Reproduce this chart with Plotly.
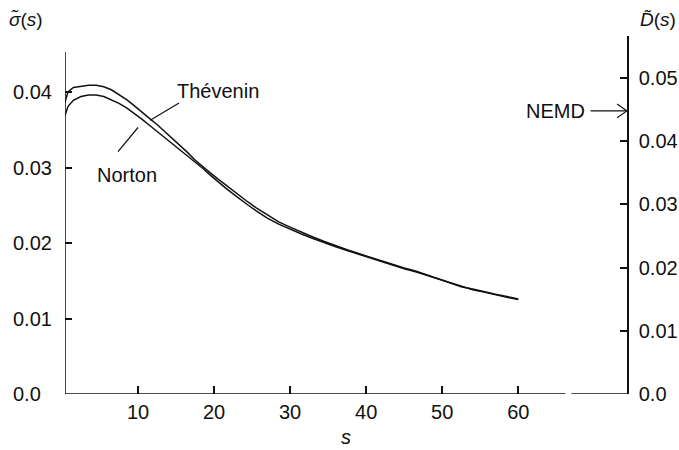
import plotly.graph_objects as go

# Integration upper limit s
s_values = [0.3, 0.8, 1.5, 2.5, 3.5, 4.5, 5.5, 6.5, 7.5, 8.5, 9.5, 10.5, 11.5,
            12.5, 13.5, 14.5, 15.5, 16.5, 17.5, 18.5, 19.5, 20.5, 21.5, 22.5,
            23.5, 24.5, 25.5, 27, 28.5, 30, 31.5, 33, 34.5, 36, 37.5, 39, 40.5,
            42, 43.5, 45, 46.5, 48, 49.5, 51, 52.5, 54, 55.5, 57, 58.5, 60]

# Running Green-Kubo estimate, Thevenin ensemble
thevenin = [0.0384, 0.0400, 0.0406, 0.0408, 0.0409, 0.0409, 0.0407, 0.0403,
            0.0397, 0.0390, 0.0382, 0.0373, 0.0365, 0.0357, 0.0348, 0.0339,
            0.0330, 0.0320, 0.0310, 0.0301, 0.0293, 0.0285, 0.0277, 0.0269,
            0.0261, 0.0254, 0.0247, 0.0237, 0.0228, 0.0221, 0.0214, 0.0208,
            0.0202, 0.0196, 0.0191, 0.0186, 0.0181, 0.0176, 0.0172, 0.0167,
            0.0163, 0.0158, 0.0153, 0.0147, 0.0142, 0.0139, 0.0135, 0.0132,
            0.0129, 0.0126]

# Running Green-Kubo estimate, Norton ensemble
norton = [0.0366, 0.0381, 0.0389, 0.0394, 0.0396, 0.0396, 0.0394, 0.0390,
          0.0385, 0.0379, 0.0372, 0.0364, 0.0356, 0.0348, 0.0340, 0.0332,
          0.0324, 0.0316, 0.0308, 0.0299, 0.0290, 0.0281, 0.0273, 0.0265,
          0.0257, 0.0250, 0.0243, 0.0233, 0.0225, 0.0218, 0.0212, 0.0206,
          0.0200, 0.0195, 0.0190, 0.0185, 0.0180, 0.0175, 0.0171, 0.0166,
          0.0162, 0.0157, 0.0152, 0.0147, 0.0142, 0.0138, 0.0135, 0.0131,
          0.0128, 0.0125]

nemd_value = 0.0448  # direct NEMD result on the right-hand scale

x_ticks = [10, 20, 30, 40, 50, 60]
left_ticks = [0.0, 0.01, 0.02, 0.03, 0.04]
left_labels = ["0.0", "0.01", "0.02", "0.03", "0.04"]
right_ticks = [0.0, 0.01, 0.02, 0.03, 0.04, 0.05]
right_labels = ["0.0", "0.01", "0.02", "0.03", "0.04", "0.05"]

FONT = "Liberation Sans, Arial, sans-serif"
INK = "#111111"
X_MIN, X_MAX = 0.4, 74.3
Y_MAX = 0.04742
Y2_MAX = 0.05665

fig = go.Figure()
fig.add_trace(go.Scatter(x=s_values, y=thevenin, mode="lines",
                         line=dict(color=INK, width=1.5), name="Thévenin"))
fig.add_trace(go.Scatter(x=s_values, y=norton, mode="lines",
                         line=dict(color=INK, width=1.5), name="Norton"))

shapes = [
    # left axis spine (shorter than the plot area)
    dict(type="line", xref="x", yref="y", x0=X_MIN, x1=X_MIN, y0=0, y1=0.0453,
         line=dict(color=INK, width=1.5)),
    # broken bottom axis
    dict(type="line", xref="x", yref="y", x0=X_MIN, x1=66.2, y0=0, y1=0,
         line=dict(color=INK, width=1.5)),
    dict(type="line", xref="x", yref="y", x0=67.0, x1=X_MAX, y0=0, y1=0,
         line=dict(color=INK, width=1.5)),
    # leader lines for the curve labels
    dict(type="line", xref="x", yref="y", x0=15.4, y0=0.03854, x1=11.6, y1=0.03625,
         line=dict(color=INK, width=1.2)),
    dict(type="line", xref="x", yref="y", x0=10.0, y0=0.0353, x1=7.37, y1=0.0321,
         line=dict(color=INK, width=1.2)),
    # NEMD pointer
    dict(type="line", xref="x", yref="y2", x0=69.5, x1=X_MAX, y0=nemd_value, y1=nemd_value,
         line=dict(color=INK, width=1.2)),
    dict(type="path", xref="x", yref="y2",
         path=f"M 73.0 {nemd_value + 0.0011} L {X_MAX} {nemd_value} L 73.0 {nemd_value - 0.0011}",
         line=dict(color=INK, width=1.2)),
]

annotations = []
for v, t in zip(left_ticks, left_labels):
    annotations.append(dict(xref="paper", yref="y", x=-0.096, y=v, text=t,
                            xanchor="left", yanchor="middle", showarrow=False,
                            font=dict(family=FONT, size=20, color=INK)))
annotations += [
    dict(xref="x", yref="y", x=20.5, y=0.0401, text="Thévenin", showarrow=False,
         xanchor="center", yanchor="middle", font=dict(family=FONT, size=20, color=INK)),
    dict(xref="x", yref="y", x=8.5, y=0.0290, text="Norton", showarrow=False,
         xanchor="center", yanchor="middle", font=dict(family=FONT, size=20, color=INK)),
    dict(xref="x", yref="y2", x=69.1, y=nemd_value, text="NEMD", showarrow=False,
         xanchor="right", yanchor="middle", font=dict(family=FONT, size=20, color=INK)),
    dict(xref="paper", yref="paper", x=-0.1032, y=1.0447,
         text="<i>σ̃</i>(<i>s</i>)", showarrow=False, xanchor="left", yanchor="middle",
         font=dict(family=FONT, size=19, color=INK)),
    dict(xref="paper", yref="paper", x=1.0907, y=1.0447,
         text="<i>D̃</i>(<i>s</i>)", showarrow=False, xanchor="right", yanchor="middle",
         font=dict(family=FONT, size=19, color=INK)),
    dict(xref="paper", yref="paper", x=0.5, y=-0.12, text="<i>s</i>",
         showarrow=False, xanchor="center", yanchor="middle",
         font=dict(family=FONT, size=20, color=INK)),
]

fig.update_layout(
    width=679, height=450,
    margin=dict(l=65, r=52, t=36, b=56, autoexpand=False),
    paper_bgcolor="white", plot_bgcolor="white",
    showlegend=False,
    font=dict(family=FONT, size=20, color=INK),
    xaxis=dict(range=[X_MIN, X_MAX], showgrid=False, zeroline=False, showline=False,
               tickvals=x_ticks, ticks="inside", ticklen=8, tickwidth=1.5,
               tickcolor=INK, ticklabelstandoff=4, automargin=False,
               tickfont=dict(family=FONT, size=20, color=INK)),
    yaxis=dict(range=[0, Y_MAX], showgrid=False, zeroline=False, showline=False,
               tickvals=left_ticks, ticks="inside", ticklen=7, tickwidth=1.5,
               tickcolor=INK, showticklabels=False, automargin=False),
    yaxis2=dict(range=[0, Y2_MAX], overlaying="y", side="right", showgrid=False,
                zeroline=False, showline=True, linecolor=INK, linewidth=1.5,
                tickvals=right_ticks, ticktext=right_labels, ticks="inside",
                ticklen=7, tickwidth=1.5, tickcolor=INK, ticklabelstandoff=6,
                automargin=False,
                tickfont=dict(family=FONT, size=20, color=INK)),
    shapes=shapes,
    annotations=annotations,
)
# an invisible trace keeps the right axis active
fig.add_trace(go.Scatter(x=[X_MIN], y=[0], yaxis="y2", mode="markers",
                         marker=dict(opacity=0), hoverinfo="skip", showlegend=False))

fig.write_html("out.html")
